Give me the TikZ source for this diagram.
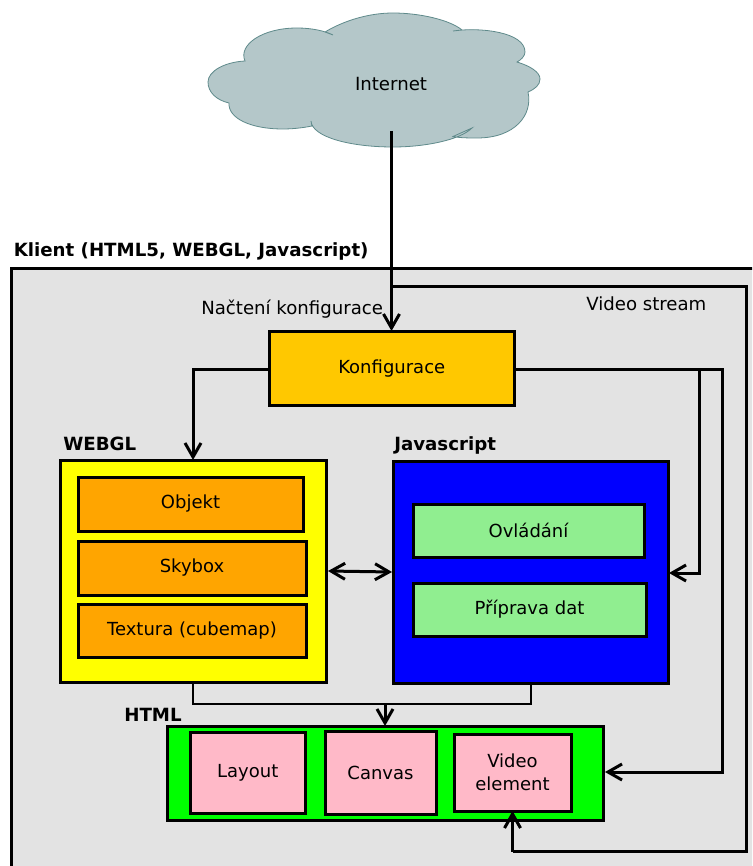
\documentclass[tikz,border=0pt]{standalone}
\usepackage{fontspec}
\setmainfont{DejaVu Sans}
\usetikzlibrary{arrows.meta}
\definecolor{cloudfill}{HTML}{B4C7C9}
\definecolor{cloudline}{HTML}{5F8A8B}
\definecolor{clientbg}{HTML}{E3E3E3}
\definecolor{konf}{HTML}{FFC800}
\definecolor{orangebox}{HTML}{FFA500}
\definecolor{greenbox}{HTML}{90EE90}
\definecolor{pinkbox}{HTML}{FFB9C8}
\definecolor{yellowbox}{HTML}{FFFF00}
\definecolor{bluebox}{HTML}{0000FF}
\definecolor{greenbg}{HTML}{00FF00}
\tikzset{
  box/.style={draw=black,line width=2.25pt,outer sep=0pt,inner sep=0pt,align=center,font=\fontsize{13.5}{17.25}\selectfont},
  lbl/.style={anchor=west,inner sep=0pt,font=\fontsize{13.6}{18}\selectfont},
  head/.style={anchor=west,inner sep=0pt,font=\fontsize{13.65}{18}\selectfont\bfseries},
  wire/.style={draw=black,line width=2.25pt,line join=miter},
  thinwire/.style={draw=black,line width=2.1pt,line join=miter},
  tip/.style={-{Straight Barb[length=10.5pt,width=12pt,line width=2.25pt]}},
  dtip/.style={{Straight Barb[length=10.5pt,width=12pt,line width=2.25pt]}-{Straight Barb[length=10.5pt,width=12pt,line width=2.25pt]}}
}
\newcommand\bx[7]{\node[box,#6,minimum width={(#4-#2)*0.75pt},minimum height={(#5-#3)*0.75pt}] (#1) at ({(#2+#4)/2},{(#3+#5)/2}) {#7};}
\begin{document}
\begin{tikzpicture}[x=0.75pt,y=-0.75pt]
\useasboundingbox (0,0) rectangle (752,866);
\clip (0,0) rectangle (752,866);
\fill[white] (0,0) rectangle (752,866);
% client
\draw[draw=black,line width=2.25pt,fill=clientbg] (11.5,268) rectangle (800,900);
\node[head] (klient) at (13.5,251) {Klient (HTML5, WEBGL, Javascript)};
% cloud
\draw[draw=cloudline,line width=0.6pt,fill=cloudfill]
  (245,61)
  .. controls (238,45) and (262,28) .. (297,28)
  .. controls (312,28) and (325,31) .. (333,35)
  -- (325,32)
  .. controls (345,20) and (370,13) .. (393,13)
  .. controls (420,13) and (450,20) .. (462,30)
  -- (453,31)
  .. controls (480,27) and (525,32) .. (525,52)
  .. controls (525,56) and (521,60) .. (517,62)
  .. controls (530,66) and (540,72) .. (540,79)
  .. controls (540,85) and (535,89) .. (528,92)
  .. controls (533,115) and (515,138) .. (477,138)
  .. controls (470,138) and (460,138) .. (453,136.5)
  -- (472,128)
  .. controls (460,140) and (425,147) .. (393,147)
  .. controls (350,147) and (312,137) .. (311,121)
  -- (312,126)
  .. controls (302,128) and (292,129) .. (283,129)
  .. controls (250,129) and (228,118) .. (229,103)
  .. controls (216,100) and (208,92) .. (208,82)
  .. controls (208,71) and (225,62) .. (245,61)
  -- cycle;
\node[inner sep=0pt,font=\fontsize{13.6}{18}\selectfont] (internet) at (391,84) {Internet};
\coordinate (cloudfoot) at (391.5,131);
% boxes
\bx{k}{269.5}{331}{514}{405.5}{fill=konf}{Konfigurace}
\bx{webgl}{60}{460}{326}{682}{fill=yellowbox}{}
\bx{objekt}{78}{477}{303}{531}{fill=orangebox}{Objekt}
\bx{skybox}{78}{541}{306}{595}{fill=orangebox}{Skybox}
\bx{textura}{78}{604}{306}{657}{fill=orangebox}{Textura (cubemap)}
\bx{js}{393}{461}{668}{683}{fill=bluebox}{}
\bx{ovl}{413}{504}{644}{557}{fill=greenbox}{Ovládání}
\bx{prip}{413}{583}{646}{636}{fill=greenbox}{Příprava dat}
\bx{html}{167}{726}{603}{820}{fill=greenbg}{}
\bx{layout}{190.5}{732}{305}{813}{fill=pinkbox}{Layout}
\bx{canvas}{325}{731}{436}{814}{fill=pinkbox}{Canvas}
\bx{video}{454}{734}{571}{811}{fill=pinkbox}{Video\\element}
% labels
\node[lbl] (nacteni) at (201,309) {Načtení konfigurace};
\node[lbl] (vstream) at (586,304) {Video stream};
\node[head] (hwebgl) at (63,444) {WEBGL};
\node[head] (hjs) at (394,445.5) {Javascript};
\node[head] (hhtml) at (124,714.5) {HTML};
% junctions
\coordinate (branch) at (391.5,286);
\coordinate (vr) at (746.5,286);
\coordinate (vb) at (746.5,851.5);
\coordinate (kr1) at (699.5,369);
\coordinate (kr2) at (722,369);
\coordinate (merge) at (385,704);
% connectors
\draw[wire,tip] (cloudfoot) -- (cloudfoot |- k.north);
\draw[wire] (branch) -- (vr) -- (vb) -- (video.south |- vb);
\draw[wire,tip] (video.south |- vb) -- (video.south);
\draw[wire,tip] (k.west |- kr1) -- (193,369) -- (193,460);
\draw[wire,tip] (k.east |- kr2) -- (kr2) -- (kr2 |- 0,772) -- (605,772);
\draw[wire,tip] (kr1) -- (kr1 |- 0,573) -- (669,573);
\draw[wire,dtip] (328,571) -- (392,572);
\draw[thinwire] (193,682) -- (193,704) -- (merge);
\draw[thinwire] (531,683) -- (531,704) -- (merge);
\draw[wire,tip] (merge) -- (merge |- html.north);
\end{tikzpicture}
\end{document}
